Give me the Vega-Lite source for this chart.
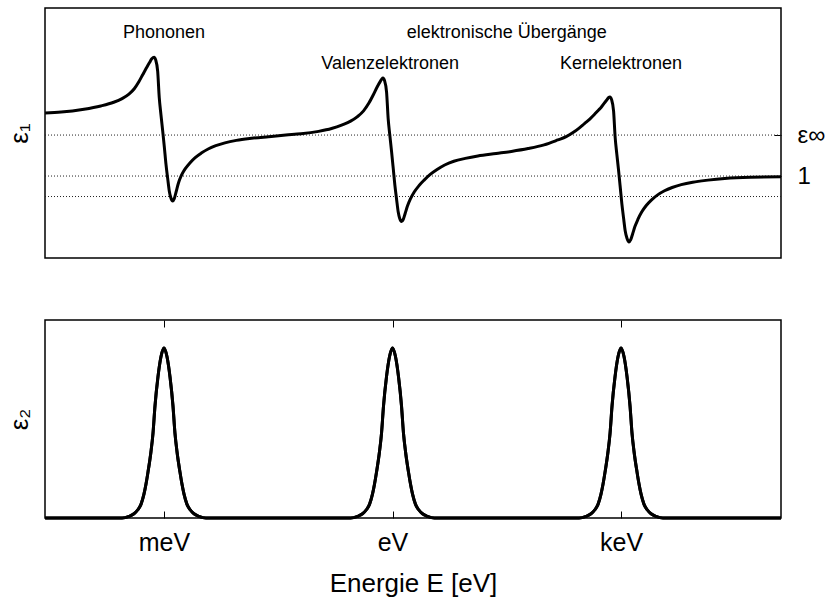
{
  "$schema": "https://vega.github.io/schema/vega-lite/v6.json",
  "background": "white",
  "padding": {"left": 5, "top": 7, "right": 0, "bottom": 5},
  "config": {
    "view": {"stroke": "black", "strokeWidth": 1.5},
    "font": "Liberation Sans",
    "axis": {"labelFont": "Liberation Sans", "titleFont": "Liberation Sans", "labelColor": "black", "titleColor": "black", "titleFontWeight": "normal", "tickColor": "black", "tickWidth": 1, "grid": false, "domain": false}
  },
  "datasets": {
    "eps1": [
      {"logE": -4.56, "eps1": 2.54}, {"logE": -4.35, "eps1": 2.56}, {"logE": -4.05, "eps1": 2.63}, {"logE": -3.83, "eps1": 2.71},
      {"logE": -3.66, "eps1": 2.8}, {"logE": -3.55, "eps1": 2.89}, {"logE": -3.46, "eps1": 3.0}, {"logE": -3.39, "eps1": 3.13},
      {"logE": -3.33, "eps1": 3.3}, {"logE": -3.28, "eps1": 3.47}, {"logE": -3.23, "eps1": 3.64}, {"logE": -3.19, "eps1": 3.77},
      {"logE": -3.16, "eps1": 3.86}, {"logE": -3.13, "eps1": 3.9}, {"logE": -3.11, "eps1": 3.84},
      {"logE": -3.083, "eps1": 3.56}, {"logE": -3.062, "eps1": 2.91}, {"logE": -3.04, "eps1": 2.5}, {"logE": -3.017, "eps1": 2.1},
      {"logE": -2.995, "eps1": 1.7}, {"logE": -2.974, "eps1": 1.29}, {"logE": -2.952, "eps1": 0.95}, {"logE": -2.93, "eps1": 0.63},
      {"logE": -2.91, "eps1": 0.47}, {"logE": -2.886, "eps1": 0.39}, {"logE": -2.865, "eps1": 0.45}, {"logE": -2.84, "eps1": 0.62},
      {"logE": -2.81, "eps1": 0.83}, {"logE": -2.77, "eps1": 1.02}, {"logE": -2.72, "eps1": 1.18}, {"logE": -2.66, "eps1": 1.32},
      {"logE": -2.59, "eps1": 1.45}, {"logE": -2.51, "eps1": 1.56}, {"logE": -2.42, "eps1": 1.66}, {"logE": -2.32, "eps1": 1.74},
      {"logE": -2.2, "eps1": 1.81}, {"logE": -2.05, "eps1": 1.87}, {"logE": -1.85, "eps1": 1.92}, {"logE": -1.63, "eps1": 1.96},
      {"logE": -1.4, "eps1": 2.0}, {"logE": -1.2, "eps1": 2.03}, {"logE": -0.97, "eps1": 2.09}, {"logE": -0.8, "eps1": 2.16},
      {"logE": -0.66, "eps1": 2.25}, {"logE": -0.55, "eps1": 2.34}, {"logE": -0.46, "eps1": 2.45}, {"logE": -0.38, "eps1": 2.59},
      {"logE": -0.31, "eps1": 2.78}, {"logE": -0.25, "eps1": 2.99}, {"logE": -0.2, "eps1": 3.18}, {"logE": -0.16, "eps1": 3.31},
      {"logE": -0.14, "eps1": 3.37}, {"logE": -0.125, "eps1": 3.39}, {"logE": -0.105, "eps1": 3.33}, {"logE": -0.078, "eps1": 3.05},
      {"logE": -0.057, "eps1": 2.4}, {"logE": -0.035, "eps1": 1.99}, {"logE": -0.012, "eps1": 1.59}, {"logE": 0.01, "eps1": 1.18},
      {"logE": 0.031, "eps1": 0.78}, {"logE": 0.053, "eps1": 0.44}, {"logE": 0.075, "eps1": 0.12}, {"logE": 0.095, "eps1": -0.04},
      {"logE": 0.119, "eps1": -0.11}, {"logE": 0.14, "eps1": -0.06}, {"logE": 0.165, "eps1": 0.08}, {"logE": 0.195, "eps1": 0.26},
      {"logE": 0.235, "eps1": 0.44}, {"logE": 0.285, "eps1": 0.61}, {"logE": 0.345, "eps1": 0.76}, {"logE": 0.415, "eps1": 0.9},
      {"logE": 0.495, "eps1": 1.04}, {"logE": 0.585, "eps1": 1.16}, {"logE": 0.685, "eps1": 1.27}, {"logE": 0.805, "eps1": 1.36},
      {"logE": 0.955, "eps1": 1.43}, {"logE": 1.12, "eps1": 1.49}, {"logE": 1.36, "eps1": 1.55}, {"logE": 1.56, "eps1": 1.6},
      {"logE": 1.78, "eps1": 1.67}, {"logE": 1.99, "eps1": 1.76}, {"logE": 2.17, "eps1": 1.88}, {"logE": 2.28, "eps1": 1.96},
      {"logE": 2.37, "eps1": 2.06}, {"logE": 2.45, "eps1": 2.17}, {"logE": 2.52, "eps1": 2.28}, {"logE": 2.59, "eps1": 2.39},
      {"logE": 2.65, "eps1": 2.5}, {"logE": 2.7, "eps1": 2.6}, {"logE": 2.74, "eps1": 2.68}, {"logE": 2.78, "eps1": 2.78},
      {"logE": 2.81, "eps1": 2.85}, {"logE": 2.835, "eps1": 2.91}, {"logE": 2.855, "eps1": 2.93},
      {"logE": 2.875, "eps1": 2.87}, {"logE": 2.902, "eps1": 2.59}, {"logE": 2.923, "eps1": 1.94}, {"logE": 2.945, "eps1": 1.53},
      {"logE": 2.968, "eps1": 1.13}, {"logE": 2.99, "eps1": 0.72}, {"logE": 3.011, "eps1": 0.32}, {"logE": 3.033, "eps1": -0.02},
      {"logE": 3.055, "eps1": -0.34}, {"logE": 3.078, "eps1": -0.52}, {"logE": 3.105, "eps1": -0.61}, {"logE": 3.126, "eps1": -0.56},
      {"logE": 3.151, "eps1": -0.42}, {"logE": 3.181, "eps1": -0.24}, {"logE": 3.221, "eps1": -0.06}, {"logE": 3.271, "eps1": 0.12},
      {"logE": 3.331, "eps1": 0.28}, {"logE": 3.401, "eps1": 0.42}, {"logE": 3.481, "eps1": 0.54}, {"logE": 3.571, "eps1": 0.64},
      {"logE": 3.671, "eps1": 0.72}, {"logE": 3.791, "eps1": 0.79}, {"logE": 3.941, "eps1": 0.85}, {"logE": 4.141, "eps1": 0.9},
      {"logE": 4.36, "eps1": 0.94}, {"logE": 4.7, "eps1": 0.97}, {"logE": 5.1, "eps1": 0.98}
    ],
    "eps2": [
      {"logE": -4.56, "eps2": 0},
      {"logE": -3.551, "eps2": 0}, {"logE": -3.459, "eps2": 0.01}, {"logE": -3.394, "eps2": 0.025}, {"logE": -3.341, "eps2": 0.05},
      {"logE": -3.302, "eps2": 0.08}, {"logE": -3.263, "eps2": 0.14}, {"logE": -3.236, "eps2": 0.2}, {"logE": -3.21, "eps2": 0.27},
      {"logE": -3.171, "eps2": 0.39}, {"logE": -3.144, "eps2": 0.5}, {"logE": -3.118, "eps2": 0.66}, {"logE": -3.079, "eps2": 0.83},
      {"logE": -3.039, "eps2": 0.95}, {"logE": -3.0, "eps2": 1.0}, {"logE": -2.961, "eps2": 0.95}, {"logE": -2.921, "eps2": 0.83},
      {"logE": -2.882, "eps2": 0.66}, {"logE": -2.856, "eps2": 0.5}, {"logE": -2.829, "eps2": 0.39}, {"logE": -2.79, "eps2": 0.27},
      {"logE": -2.764, "eps2": 0.2}, {"logE": -2.737, "eps2": 0.14}, {"logE": -2.698, "eps2": 0.08}, {"logE": -2.659, "eps2": 0.05},
      {"logE": -2.606, "eps2": 0.025}, {"logE": -2.541, "eps2": 0.01}, {"logE": -2.449, "eps2": 0},
      {"logE": -0.551, "eps2": 0}, {"logE": -0.459, "eps2": 0.01}, {"logE": -0.394, "eps2": 0.025}, {"logE": -0.341, "eps2": 0.05},
      {"logE": -0.302, "eps2": 0.08}, {"logE": -0.263, "eps2": 0.14}, {"logE": -0.236, "eps2": 0.2}, {"logE": -0.21, "eps2": 0.27},
      {"logE": -0.171, "eps2": 0.39}, {"logE": -0.144, "eps2": 0.5}, {"logE": -0.118, "eps2": 0.66}, {"logE": -0.079, "eps2": 0.83},
      {"logE": -0.039, "eps2": 0.95}, {"logE": 0.0, "eps2": 1.0}, {"logE": 0.039, "eps2": 0.95}, {"logE": 0.079, "eps2": 0.83},
      {"logE": 0.118, "eps2": 0.66}, {"logE": 0.144, "eps2": 0.5}, {"logE": 0.171, "eps2": 0.39}, {"logE": 0.21, "eps2": 0.27},
      {"logE": 0.236, "eps2": 0.2}, {"logE": 0.263, "eps2": 0.14}, {"logE": 0.302, "eps2": 0.08}, {"logE": 0.341, "eps2": 0.05},
      {"logE": 0.394, "eps2": 0.025}, {"logE": 0.459, "eps2": 0.01}, {"logE": 0.551, "eps2": 0},
      {"logE": 2.449, "eps2": 0}, {"logE": 2.541, "eps2": 0.01}, {"logE": 2.606, "eps2": 0.025}, {"logE": 2.659, "eps2": 0.05},
      {"logE": 2.698, "eps2": 0.08}, {"logE": 2.737, "eps2": 0.14}, {"logE": 2.764, "eps2": 0.2}, {"logE": 2.79, "eps2": 0.27},
      {"logE": 2.829, "eps2": 0.39}, {"logE": 2.856, "eps2": 0.5}, {"logE": 2.882, "eps2": 0.66}, {"logE": 2.921, "eps2": 0.83},
      {"logE": 2.961, "eps2": 0.95}, {"logE": 3.0, "eps2": 1.0}, {"logE": 3.039, "eps2": 0.95}, {"logE": 3.079, "eps2": 0.83},
      {"logE": 3.118, "eps2": 0.66}, {"logE": 3.144, "eps2": 0.5}, {"logE": 3.171, "eps2": 0.39}, {"logE": 3.21, "eps2": 0.27},
      {"logE": 3.236, "eps2": 0.2}, {"logE": 3.263, "eps2": 0.14}, {"logE": 3.302, "eps2": 0.08}, {"logE": 3.341, "eps2": 0.05},
      {"logE": 3.394, "eps2": 0.025}, {"logE": 3.459, "eps2": 0.01}, {"logE": 3.551, "eps2": 0},
      {"logE": 5.1, "eps2": 0}
    ],
    "levels": [{"level": 2}, {"level": 1}, {"level": 0.5}],
    "notes": [
      {"label": "Phononen", "logE": -3.0, "eps1": 4.48},
      {"label": "elektronische Übergänge", "logE": 1.5, "eps1": 4.48},
      {"label": "Valenzelektronen", "logE": -0.03, "eps1": 3.73},
      {"label": "Kernelektronen", "logE": 3.0, "eps1": 3.73}
    ]
  },
  "spacing": 62,
  "bounds": "flush",
  "vconcat": [
    {
      "width": 736,
      "height": 250,
      "layer": [
        {
          "data": {"name": "levels"},
          "mark": {"type": "rule", "color": "#222", "strokeWidth": 1, "strokeDash": [1, 2]},
          "encoding": {
            "y": {"field": "level", "type": "quantitative",
              "scale": {"domain": [-1, 5.1], "nice": false, "zero": false},
              "axis": {"orient": "right", "values": [2, 1], "labelExpr": "datum.value == 2 ? 'ε∞' : '1'", "title": null,
                "tickSize": -7, "labelPadding": 23, "labelFontSize": 24, "labelBaseline": "middle"}}
          }
        },
        {
          "data": {"name": "eps1"},
          "mark": {"type": "line", "color": "black", "strokeWidth": 3, "interpolate": "monotone"},
          "encoding": {
            "x": {"field": "logE", "type": "quantitative", "scale": {"domain": [-4.562, 5.1], "nice": false, "zero": false}, "axis": null},
            "y": {"field": "eps1", "type": "quantitative",
              "scale": {"domain": [-1, 5.1], "nice": false, "zero": false},
              "axis": {"orient": "left", "title": "ε₁", "labels": false, "ticks": false, "titleFontSize": 26, "titlePadding": 13}}
          }
        },
        {
          "data": {"name": "notes"},
          "mark": {"type": "text", "fontSize": 18, "font": "Liberation Sans", "color": "black", "baseline": "middle"},
          "encoding": {
            "x": {"field": "logE", "type": "quantitative", "scale": {"domain": [-4.562, 5.1], "nice": false, "zero": false}, "axis": null},
            "y": {"field": "eps1", "type": "quantitative", "scale": {"domain": [-1, 5.1], "nice": false, "zero": false}, "axis": null},
            "text": {"field": "label", "type": "nominal"}
          }
        }
      ],
      "resolve": {"scale": {"y": "independent"}, "axis": {"y": "independent"}}
    },
    {
      "width": 736,
      "height": 198,
      "layer": [
        {
          "data": {"name": "eps2"},
          "mark": {"type": "line", "color": "black", "strokeWidth": 3, "interpolate": "monotone"},
          "encoding": {
            "x": {"field": "logE", "type": "quantitative", "scale": {"domain": [-4.562, 5.1], "nice": false, "zero": false},
              "axis": {"orient": "bottom", "values": [-3, 0, 3], "labelExpr": "datum.value == -3 ? 'meV' : (datum.value == 0 ? 'eV' : 'keV')",
                "title": "Energie E [eV]", "tickSize": -7, "labelPadding": 19, "labelFontSize": 25, "titleFontSize": 26, "titlePadding": 15}},
            "y": {"field": "eps2", "type": "quantitative", "scale": {"domain": [0, 1.165], "nice": false, "zero": false},
              "axis": {"orient": "left", "title": "ε₂", "labels": false, "ticks": false, "titleFontSize": 26, "titlePadding": 13}}
          }
        },
        {
          "data": {"name": "eps2"},
          "mark": {"type": "line", "color": "black", "strokeWidth": 3, "interpolate": "monotone"},
          "encoding": {
            "x": {"field": "logE", "type": "quantitative", "scale": {"domain": [-4.562, 5.1], "nice": false, "zero": false},
              "axis": {"orient": "top", "values": [-3, 0, 3], "labels": false, "title": null, "tickSize": -7}},
            "y": {"field": "eps2", "type": "quantitative", "scale": {"domain": [0, 1.165], "nice": false, "zero": false}, "axis": null}
          }
        }
      ],
      "resolve": {"scale": {"x": "independent", "y": "independent"}, "axis": {"x": "independent", "y": "independent"}}
    }
  ]
}
